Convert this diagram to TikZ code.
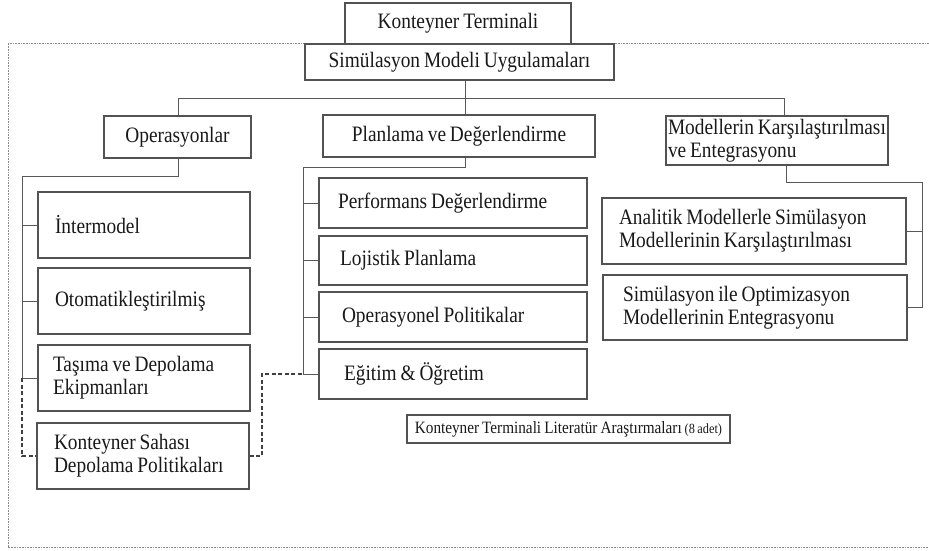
\documentclass[tikz,border=0pt]{standalone}
\usepackage{fontspec}
\setmainfont[FakeStretch=0.88,WordSpace=0.8]{Liberation Serif}
\begin{document}
\begin{tikzpicture}[x=1pt,y=-1pt,
  box/.style={draw=black!68, line width=1.2pt, fill=white, rectangle, inner ysep=0pt,
    font=\fontsize{22}{23}\selectfont, text=black!90},
  lbox/.style={box, align=flush left},
  conn/.style={draw=black!65, line width=1pt},
  dconn/.style={draw=black!75, line width=1.8pt, dash pattern=on 4pt off 2.5pt},
  frame/.style={draw=black!45, line width=0.9pt, dash pattern=on 0.8pt off 0.8pt}]
\useasboundingbox (0,0) rectangle (929,550);
\fill[white] (0,0) rectangle (929,550);
% outer dotted frame (open on the right)
\draw[frame] (929,43.5) -- (8,43.5) -- (8,547) -- (929,547);

% top level
\node[box, minimum width=226pt, minimum height=41pt, inner xsep=0pt] (top) at (458,23.5) {Konteyner Terminali};
\node[box, minimum width=309pt, minimum height=36pt, inner xsep=0pt] (sim) at (459.5,62) {Simülasyon Modeli Uygulamaları};

% second level
\node[box, minimum width=147pt, minimum height=42pt, inner xsep=0pt] (ops) at (177.5,137) {Operasyonlar};
\node[box, minimum width=272pt, minimum height=42pt, inner xsep=0pt] (plan) at (459,136) {Planlama ve Değerlendirme};
\node[lbox, text width=218pt, inner xsep=2pt, minimum height=49pt] (mod) at (777,140.5) {\mbox{Modellerin Karşılaştırılması}\\ve Entegrasyonu};

% left column
\node[lbox, text width=178pt, inner xsep=17pt, minimum height=66pt] (inter) at (144,225) {İntermodel};
\node[lbox, text width=178pt, inner xsep=17pt, minimum height=66pt] (oto) at (144,301) {Otomatikleştirilmiş};
\node[lbox, text width=182pt, inner xsep=15pt, minimum height=66pt] (tas) at (144,378) {Taşıma ve Depolama\\Ekipmanları};
\node[lbox, text width=178pt, inner xsep=17pt, minimum height=66pt] (saha) at (143,456) {Konteyner Sahası\\Depolama Politikaları};

% middle column
\node[lbox, text width=230pt, inner xsep=19pt, minimum height=50pt] (perf) at (453,203) {Performans Değerlendirme};
\node[lbox, text width=226pt, inner xsep=21pt, minimum height=49pt] (loj) at (453,260.5) {Lojistik Planlama};
\node[lbox, text width=222pt, inner xsep=23pt, minimum height=50pt] (opol) at (453,317) {Operasyonel Politikalar};
\node[lbox, text width=218pt, inner xsep=25pt, minimum height=50pt] (egit) at (453,374) {Eğitim \& Öğretim};

% right column
\node[lbox, text width=270pt, inner xsep=17pt, minimum height=66pt] (anal) at (754,231) {Analitik Modellerle Simülasyon\\Modellerinin Karşılaştırılması};
\node[lbox, text width=264pt, inner xsep=20pt, minimum height=65pt] (simopt) at (755,307.5) {Simülasyon ile Optimizasyon\\Modellerinin Entegrasyonu};

% literature box
\node[box, minimum width=323pt, minimum height=28pt, inner xsep=0pt, font=\fontsize{17.3}{19}\selectfont] (lit) at (568.5,429)
  {Konteyner Terminali Literatür Araştırmaları {\fontsize{14}{15}\selectfont(8 adet)}};

% connector coordinates
\coordinate (b1) at (465,98);
\coordinate (b1l) at (178,98);
\coordinate (b1r) at (784,98);
\coordinate (lt) at (22,176);
\coordinate (pt) at (303,167);
\coordinate (pc) at (465,167);
\coordinate (mc) at (786,182);
\coordinate (mt) at (922,182);
\coordinate (dm) at (262,456);

% top bus
\draw[conn] (sim.south -| b1) -- (plan.north -| b1);
\draw[conn] (ops.north -| b1l) -- (b1l) -- (b1r) -- (mod.north -| b1r);

% left tree
\draw[conn] (ops.south -| b1l) -- (b1l |- lt) -- (lt) -- (lt |- tas.west) -- (tas.west);
\draw[conn] (lt |- inter.west) -- (inter.west);
\draw[conn] (lt |- oto.west) -- (oto.west);

% middle tree
\draw[conn] (plan.south -| pc) -- (pc) -- (pt) -- (pt |- egit.west) -- (egit.west);
\draw[conn] (pt |- perf.west) -- (perf.west);
\draw[conn] (pt |- loj.west) -- (loj.west);
\draw[conn] (pt |- opol.west) -- (opol.west);

% right tree
\draw[conn] (mod.south -| mc) -- (mc) -- (mt) -- (mt |- simopt.east) -- (simopt.east);
\draw[conn] (mt |- anal.east) -- (anal.east);

% dashed links
\draw[dconn] (lt |- tas.west) -- (lt |- saha.west) -- (saha.west);
\draw[dconn] (saha.east) -- (dm) -- (dm |- egit.west) -- (pt |- egit.west);
\end{tikzpicture}
\end{document}
